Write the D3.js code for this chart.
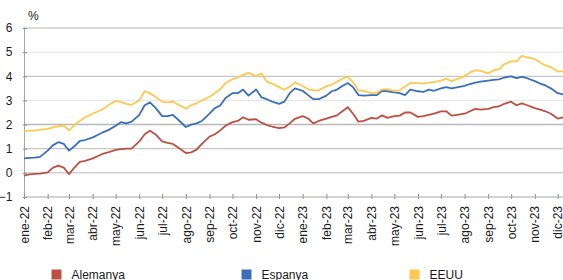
<!DOCTYPE html>
<html>
<head>
<meta charset="utf-8">
<script src="https://cdn.jsdelivr.net/npm/d3@7"></script>
<style>
  body { margin: 0; background: #fff; }
  svg { display: block; font-family: "Liberation Sans", Arial, sans-serif; }
</style>
</head>
<body>
<svg id="chart" width="563" height="280"></svg>
<script>
// --- datos (muestras semanales) ---
const dates = [
  "2022-01-01","2022-01-08","2022-01-15","2022-01-22",
  "2022-02-01","2022-02-08","2022-02-15","2022-02-22",
  "2022-03-01","2022-03-08","2022-03-15","2022-03-22",
  "2022-04-01","2022-04-08","2022-04-15","2022-04-22",
  "2022-05-01","2022-05-08","2022-05-15","2022-05-22",
  "2022-06-01","2022-06-08","2022-06-15","2022-06-22",
  "2022-07-01","2022-07-08","2022-07-15","2022-07-22",
  "2022-08-01","2022-08-08","2022-08-15","2022-08-22",
  "2022-09-01","2022-09-08","2022-09-15","2022-09-22",
  "2022-10-01","2022-10-08","2022-10-15","2022-10-22",
  "2022-11-01","2022-11-08","2022-11-15","2022-11-22",
  "2022-12-01","2022-12-08","2022-12-15","2022-12-22",
  "2023-01-01","2023-01-08","2023-01-15","2023-01-22",
  "2023-02-01","2023-02-08","2023-02-15","2023-02-22",
  "2023-03-01","2023-03-08","2023-03-15","2023-03-22",
  "2023-04-01","2023-04-08","2023-04-15","2023-04-22",
  "2023-05-01","2023-05-08","2023-05-15","2023-05-22",
  "2023-06-01","2023-06-08","2023-06-15","2023-06-22",
  "2023-07-01","2023-07-08","2023-07-15","2023-07-22",
  "2023-08-01","2023-08-08","2023-08-15","2023-08-22",
  "2023-09-01","2023-09-08","2023-09-15","2023-09-22",
  "2023-10-01","2023-10-08","2023-10-15","2023-10-22",
  "2023-11-01","2023-11-08","2023-11-15","2023-11-22",
  "2023-12-01","2023-12-08"
];

const alemanya = [
  -0.12, -0.06, -0.04, -0.03,
  0.02, 0.22, 0.30, 0.22,
  -0.05, 0.22, 0.45, 0.50,
  0.60, 0.70, 0.80, 0.86,
  0.95, 0.98, 1.00, 1.00,
  1.30, 1.60, 1.74, 1.60,
  1.30, 1.24, 1.20, 1.05,
  0.82, 0.85, 0.96, 1.20,
  1.50, 1.60, 1.76, 1.95,
  2.10, 2.15, 2.30, 2.20,
  2.22, 2.08, 1.98, 1.92,
  1.85, 1.88, 2.05, 2.24,
  2.35, 2.25, 2.05, 2.15,
  2.25, 2.32, 2.38, 2.55,
  2.72, 2.45, 2.12, 2.15,
  2.28, 2.25, 2.38, 2.28,
  2.35, 2.37, 2.50, 2.50,
  2.32, 2.35, 2.40, 2.45,
  2.55, 2.55, 2.37, 2.40,
  2.45, 2.55, 2.65, 2.62,
  2.65, 2.72, 2.75, 2.86,
  2.95, 2.80, 2.88, 2.80,
  2.68, 2.62, 2.55, 2.45,
  2.25, 2.30
];

const espanya = [
  0.60, 0.62, 0.63, 0.66,
  0.92, 1.15, 1.27, 1.20,
  0.92, 1.10, 1.32, 1.36,
  1.47, 1.58, 1.69, 1.78,
  1.95, 2.10, 2.05, 2.12,
  2.40, 2.80, 2.92, 2.70,
  2.35, 2.35, 2.40, 2.20,
  1.90, 2.00, 2.05, 2.15,
  2.45, 2.68, 2.79, 3.10,
  3.30, 3.30, 3.45, 3.20,
  3.45, 3.13, 3.05, 2.95,
  2.86, 2.95, 3.30, 3.50,
  3.40, 3.22, 3.05, 3.05,
  3.20, 3.38, 3.45, 3.60,
  3.72, 3.55, 3.22, 3.20,
  3.22, 3.22, 3.40, 3.38,
  3.33, 3.30, 3.22, 3.45,
  3.38, 3.35, 3.45, 3.40,
  3.50, 3.55, 3.50, 3.54,
  3.60, 3.68, 3.74, 3.78,
  3.82, 3.85, 3.87, 3.95,
  4.00, 3.92, 3.98, 3.92,
  3.80, 3.70, 3.62, 3.50,
  3.30, 3.25
];

const eeuu = [
  1.72, 1.75, 1.76, 1.78,
  1.82, 1.88, 1.93, 1.96,
  1.76, 1.98, 2.15, 2.30,
  2.45, 2.55, 2.65, 2.82,
  2.97, 2.93, 2.86, 2.82,
  3.00, 3.38, 3.30, 3.15,
  2.95, 2.92, 2.95, 2.82,
  2.66, 2.80, 2.88, 3.00,
  3.15, 3.30, 3.47, 3.72,
  3.88, 3.95, 4.06, 4.14,
  4.00, 4.12, 3.78, 3.70,
  3.55, 3.45, 3.56, 3.75,
  3.60, 3.47, 3.42, 3.42,
  3.58, 3.65, 3.78, 3.90,
  3.98, 3.75, 3.42, 3.40,
  3.30, 3.32, 3.45, 3.47,
  3.40, 3.42, 3.58, 3.72,
  3.72, 3.70, 3.74, 3.76,
  3.82, 3.90, 3.80, 3.88,
  4.00, 4.16, 4.25, 4.22,
  4.12, 4.25, 4.30, 4.50,
  4.62, 4.62, 4.85, 4.78,
  4.72, 4.57, 4.45, 4.38,
  4.20, 4.20
];

const monthLabels = [
  "ene-22","feb-22","mar-22","abr-22","may-22","jun-22",
  "jul-22","ago-22","sep-22","oct-22","nov-22","dic-22",
  "ene-23","feb-23","mar-23","abr-23","may-23","jun-23",
  "jul-23","ago-23","sep-23","oct-23","nov-23","dic-23"
];
const yTicks = [-1, 0, 1, 2, 3, 4, 5, 6];

const seriesNames  = ["Alemanya", "Espanya", "EEUU"];
const seriesColors = ["#be5042", "#3a6fbb", "#ffc84f"];

// --- escalas ---
const parse = d3.utcParse("%Y-%m-%d");
const left = 24, right = 563;

const x = d3.scaleUtc()
  .domain([parse("2022-01-01"), parse("2023-12-01")])
  .range([left, 557.7]);

const y = d3.scaleLinear().domain([-1, 6]).range([197, 28]);

const svg = d3.select('#chart');

// rejilla horizontal
svg.append('g')
  .selectAll('line')
  .data(yTicks.filter(v => v > -1))
  .join('line')
  .attr('x1', left).attr('x2', right)
  .attr('y1', d => y(d)).attr('y2', d => y(d))
  .attr('stroke', d => (d === 3 || d === 5) ? '#e4e4e4' : '#b9b9b9')
  .attr('stroke-width', d => d === 2 ? 1.6 : 1);

// eje Y
const yAxis = svg.append('g')
  .attr('transform', `translate(${left},0)`)
  .call(d3.axisLeft(y).tickValues(yTicks).tickFormat(d3.format('d'))
    .tickSize(0).tickPadding(11.5));
yAxis.select('.domain').attr('stroke', '#a6a6a6');
yAxis.selectAll('text')
  .attr('font-size', 12).attr('fill', '#1a1a1a')
  .attr('font-family', '"Liberation Sans", Arial, sans-serif');
yAxis.selectAll('.tick').append('line')
  .attr('x1', -1).attr('x2', 3).attr('stroke', '#8c8c8c');

// eje X
const monthDates = d3.utcMonth.range(parse("2022-01-01"), parse("2023-12-02"));
const xAxis = svg.append('g')
  .attr('transform', `translate(0,${y(-1)})`)
  .call(d3.axisBottom(x)
    .tickValues(monthDates)
    .tickFormat((d, i) => monthLabels[i])
    .tickSize(0));
xAxis.select('.domain').remove();
xAxis.append('line')
  .attr('x1', left).attr('x2', right)
  .attr('stroke', '#a6a6a6');
xAxis.selectAll('.tick').append('line')
  .attr('y1', -3).attr('y2', 2).attr('stroke', '#8c8c8c');
xAxis.selectAll('text')
  .attr('font-size', 12).attr('fill', '#1a1a1a')
  .attr('font-family', '"Liberation Sans", Arial, sans-serif')
  .attr('transform', 'rotate(-90)')
  .attr('text-anchor', 'end')
  .attr('x', -9).attr('y', 0).attr('dy', '0.35em');

// unidad
svg.append('text')
  .attr('x', 28).attr('y', 19.5)
  .attr('font-size', 12).attr('fill', '#1a1a1a')
  .text('%');

// líneas
const line = d3.line()
  .x((d, i) => x(parse(dates[i])))
  .y(d => y(d));

[alemanya, espanya, eeuu].forEach((vals, k) => {
  svg.append('path')
    .datum(vals)
    .attr('fill', 'none')
    .attr('stroke', seriesColors[k])
    .attr('stroke-width', 1.8)
    .attr('stroke-linejoin', 'round')
    .attr('d', line);
});

// leyenda
const legendX = [51.5, 241.5, 409.5];
const lg = svg.append('g');
seriesNames.forEach((name, k) => {
  lg.append('rect')
    .attr('x', legendX[k]).attr('y', 269.5)
    .attr('width', 10).attr('height', 10)
    .attr('fill', seriesColors[k]);
  lg.append('text')
    .attr('x', legendX[k] + 20).attr('y', 279)
    .attr('font-size', 12).attr('fill', '#1a1a1a')
    .text(name);
});
</script>
</body>
</html>
